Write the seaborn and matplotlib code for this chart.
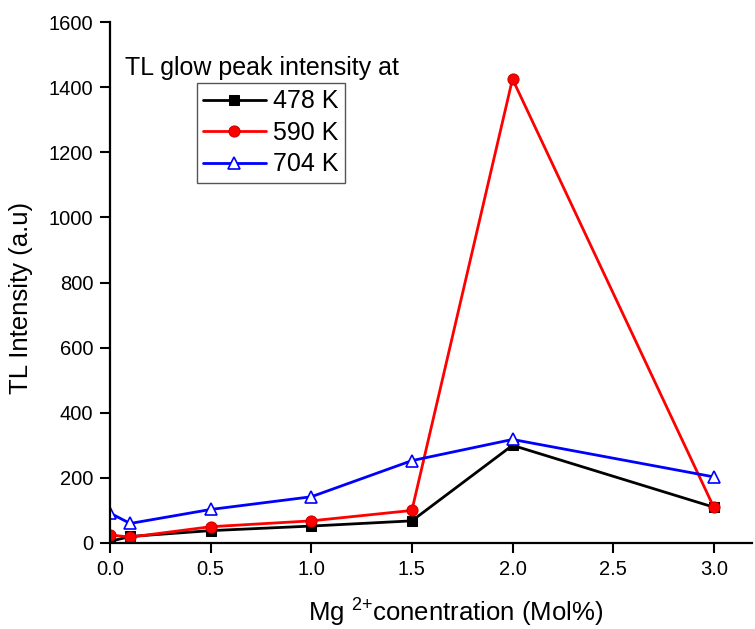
import matplotlib
matplotlib.use("Agg")
import matplotlib.pyplot as plt
import numpy as np
import pandas as pd
import seaborn as sns

# Mg2+ concentration (mol%)
conc = [0.0, 0.1, 0.5, 1.0, 1.5, 2.0, 3.0]

# TL glow peak intensity (a.u.) at each peak temperature
peak_478 = [5, 20, 38, 52, 68, 300, 110]
peak_590 = [25, 18, 50, 68, 100, 1425, 110]
peak_704 = [92, 60, 103, 142, 253, 318, 203]

labels = ["478 K", "590 K", "704 K"]

df = pd.DataFrame({
    "conc": conc * 3,
    "intensity": peak_478 + peak_590 + peak_704,
    "peak": np.repeat(labels, len(conc)),
})

sns.set_style("ticks")
plt.rcParams["font.family"] = ["Liberation Sans", "DejaVu Sans"]
plt.rcParams["mathtext.default"] = "regular"
plt.rcParams["text.color"] = "black"
plt.rcParams["axes.labelcolor"] = "black"
plt.rcParams["xtick.color"] = "black"
plt.rcParams["ytick.color"] = "black"

fig = plt.figure(figsize=(7.55, 6.29), dpi=100)
ax = fig.add_axes([110 / 755, 86 / 629, 642 / 755, 521 / 629])

styles = {
    "478 K": dict(color="black", marker="s", ms=6.5, mfc="black", mec="black"),
    "590 K": dict(color="red", marker="o", ms=8, mfc="red", mec="#cc0000"),
    "704 K": dict(color="blue", marker="^", ms=9, mfc="white", mec="blue", mew=1.2),
}

for lab in labels:
    sub = df[df["peak"] == lab]
    sns.lineplot(data=sub, x="conc", y="intensity", ax=ax, label=lab,
                 lw=2, **styles[lab])

ax.set_xlim(0, 3.19)
ax.set_ylim(0, 1600)
ax.set_xticks([0.0, 0.5, 1.0, 1.5, 2.0, 2.5, 3.0])
ax.set_yticks(np.arange(0, 1601, 200))
ax.tick_params(axis="both", direction="out", length=7, width=1.5,
               labelsize=14.5, color="black", labelcolor="black", pad=5)

for side in ["top", "right"]:
    ax.spines[side].set_visible(False)
for side in ["left", "bottom"]:
    ax.spines[side].set_linewidth(1.6)
    ax.spines[side].set_color("black")

ax.set_xlabel("Mg $^{2{+}}$conentration (Mol%)", fontsize=18.5)
ax.set_ylabel("TL Intensity (a.u)", fontsize=18.5)
# labels sit a bit off-centre in the original
ax.xaxis.set_label_coords(0.539, -0.104)
ax.yaxis.set_label_coords(-0.12, 0.47)

leg = ax.legend(loc="upper left", bbox_to_anchor=(197 / 755, 1 - 83 / 629),
                bbox_transform=fig.transFigure, fontsize=18, frameon=True,
                fancybox=False, edgecolor="#555555", framealpha=1,
                handlelength=2.5, handletextpad=0.3, labelspacing=0.3,
                borderpad=0.25, borderaxespad=0)
leg.get_frame().set_linewidth(1.0)

fig.text(125 / 755, 1 - 75 / 629, "TL glow peak intensity at", fontsize=18,
         ha="left", va="baseline")

fig.savefig("out.png", dpi=100)
